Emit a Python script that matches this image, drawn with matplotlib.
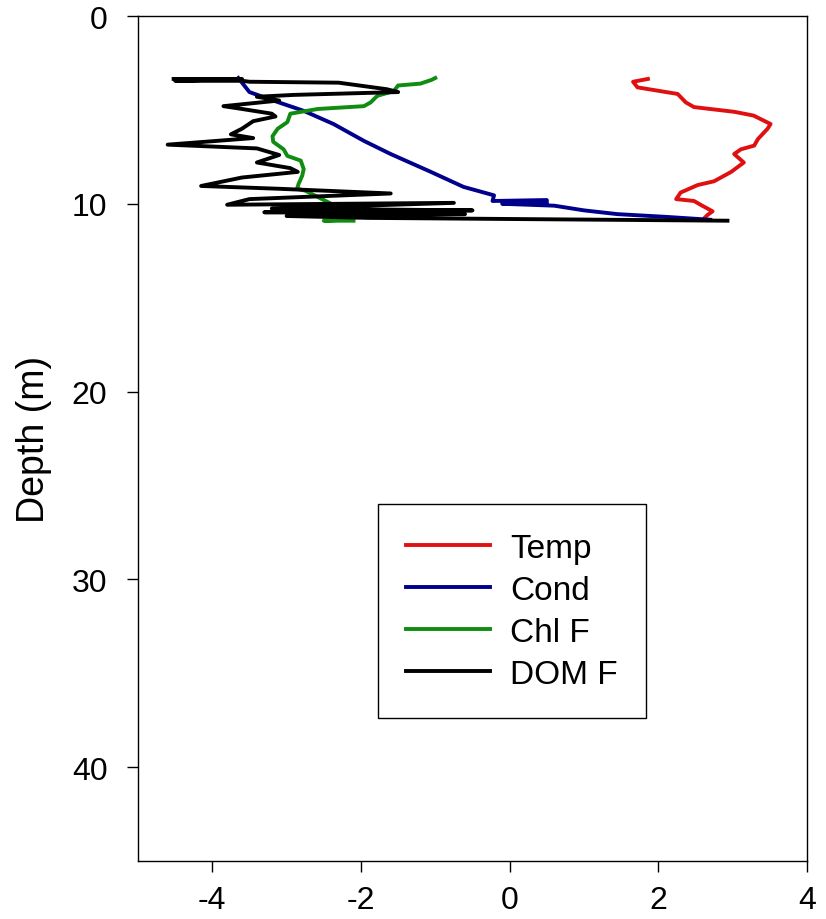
"""
Depth profiles of standardised CTD variables
"""
import numpy as np
import matplotlib
matplotlib.use('Agg')
import matplotlib.pyplot as plt

plt.rcParams['font.family'] = ['Liberation Sans', 'DejaVu Sans']
plt.rcParams['axes.unicode_minus'] = False

# values (x = standardised value, y = depth in m)
temp_x = [1.86, 1.66, 1.72, 2.26, 2.37, 2.48, 3.02, 3.28, 3.51, 3.47, 3.34, 3.29,
          3.11, 3.02, 3.15, 2.98, 2.75, 2.53, 2.30, 2.24, 2.48, 2.59, 2.73, 2.66, 2.61]
temp_d = [3.35, 3.5, 3.8, 4.15, 4.6, 4.85, 5.1, 5.3, 5.75, 6.0, 6.55, 6.9,
          7.1, 7.35, 7.8, 8.3, 8.8, 9.0, 9.4, 9.75, 9.85, 10.1, 10.4, 10.6, 10.8]

cond_x = [-3.65, -3.5, -3.18, -2.77, -2.37, -1.96, -1.6, -1.06, -0.62, -0.21,
          -0.23, 0.5, 0.5, -0.1, 0.6, 1.0, 1.45, 2.12, 2.7]
cond_d = [3.3, 4.05, 4.5, 5.05, 5.75, 6.65, 7.35, 8.3, 9.1, 9.55,
          9.85, 9.8, 9.95, 10.0, 10.1, 10.35, 10.55, 10.7, 10.85]

chl_x = [-1.0, -1.05, -1.2, -1.5, -1.56, -1.78, -1.87, -1.96, -2.58, -2.95, -2.99,
         -3.12, -3.19, -3.18, -3.04, -2.99, -2.81, -2.77, -2.79, -2.84, -2.86,
         -2.75, -2.6, -2.4, -2.3, -2.25, -2.25, -2.5, -2.1]
chl_d = [3.3, 3.4, 3.6, 3.7, 4.0, 4.25, 4.6, 4.8, 4.95, 5.2, 5.65,
         6.0, 6.4, 6.7, 7.1, 7.45, 7.7, 8.15, 8.5, 8.95, 9.2,
         9.3, 9.6, 10.0, 10.4, 10.6, 10.85, 10.9, 10.9]

dom_x = [-4.52, -3.6, -4.5, -3.6, -3.5, -2.3, -1.65, -1.5, -2.9, -3.4, -3.1, -3.85,
         -3.6, -3.2, -3.15, -3.45, -3.6, -3.75, -3.45, -4.6, -3.4, -3.1, -3.4,
         -2.95, -2.85, -3.6, -4.15, -3.1, -1.6, -3.5, -3.8, -0.75, -3.2, -0.5,
         -3.3, -0.6, -3.0, -1.9, 2.93]
dom_d = [3.35, 3.35, 3.45, 3.45, 3.5, 3.55, 3.9, 4.05, 4.2, 4.3, 4.5, 4.8,
         4.95, 5.2, 5.35, 5.6, 6.0, 6.3, 6.5, 6.85, 7.05, 7.4, 7.8,
         8.1, 8.3, 8.6, 9.05, 9.2, 9.45, 9.75, 10.05, 9.95, 10.25, 10.35,
         10.45, 10.55, 10.65, 10.75, 10.9]

fig = plt.figure(figsize=(8.26, 9.2), dpi=100)
ax = fig.add_axes([0.167, 0.063, 0.81, 0.9185])

lw = 2.8
ax.plot(temp_x, temp_d, color='#e01010', lw=lw, label='Temp')
ax.plot(cond_x, cond_d, color='#00008c', lw=lw, label='Cond')
ax.plot(chl_x, chl_d, color='#108c10', lw=lw, label='Chl F')
ax.plot(dom_x, dom_d, color='black', lw=lw, label='DOM F')

ax.set_xlim(-5, 4)
ax.set_ylim(45, 0)
ax.set_xticks([-4, -2, 0, 2, 4])
ax.set_yticks([0, 10, 20, 30, 40])
ax.tick_params(direction='out', length=8, width=1, labelsize=23)
ax.tick_params(axis='y', pad=14)
ax.tick_params(axis='x', pad=9)
ax.set_ylabel('Depth (m)', fontsize=27, labelpad=14)
for s in ax.spines.values():
    s.set_linewidth(1)

leg = ax.legend(loc='upper left', bbox_to_anchor=(0.359, 0.422), fontsize=24,
                handlelength=2.5, handletextpad=0.6, fancybox=False, framealpha=1,
                edgecolor='black', borderaxespad=0, labelspacing=0.33, borderpad=0.85)
leg.get_frame().set_linewidth(1)

fig.savefig('out.png', dpi=100)
